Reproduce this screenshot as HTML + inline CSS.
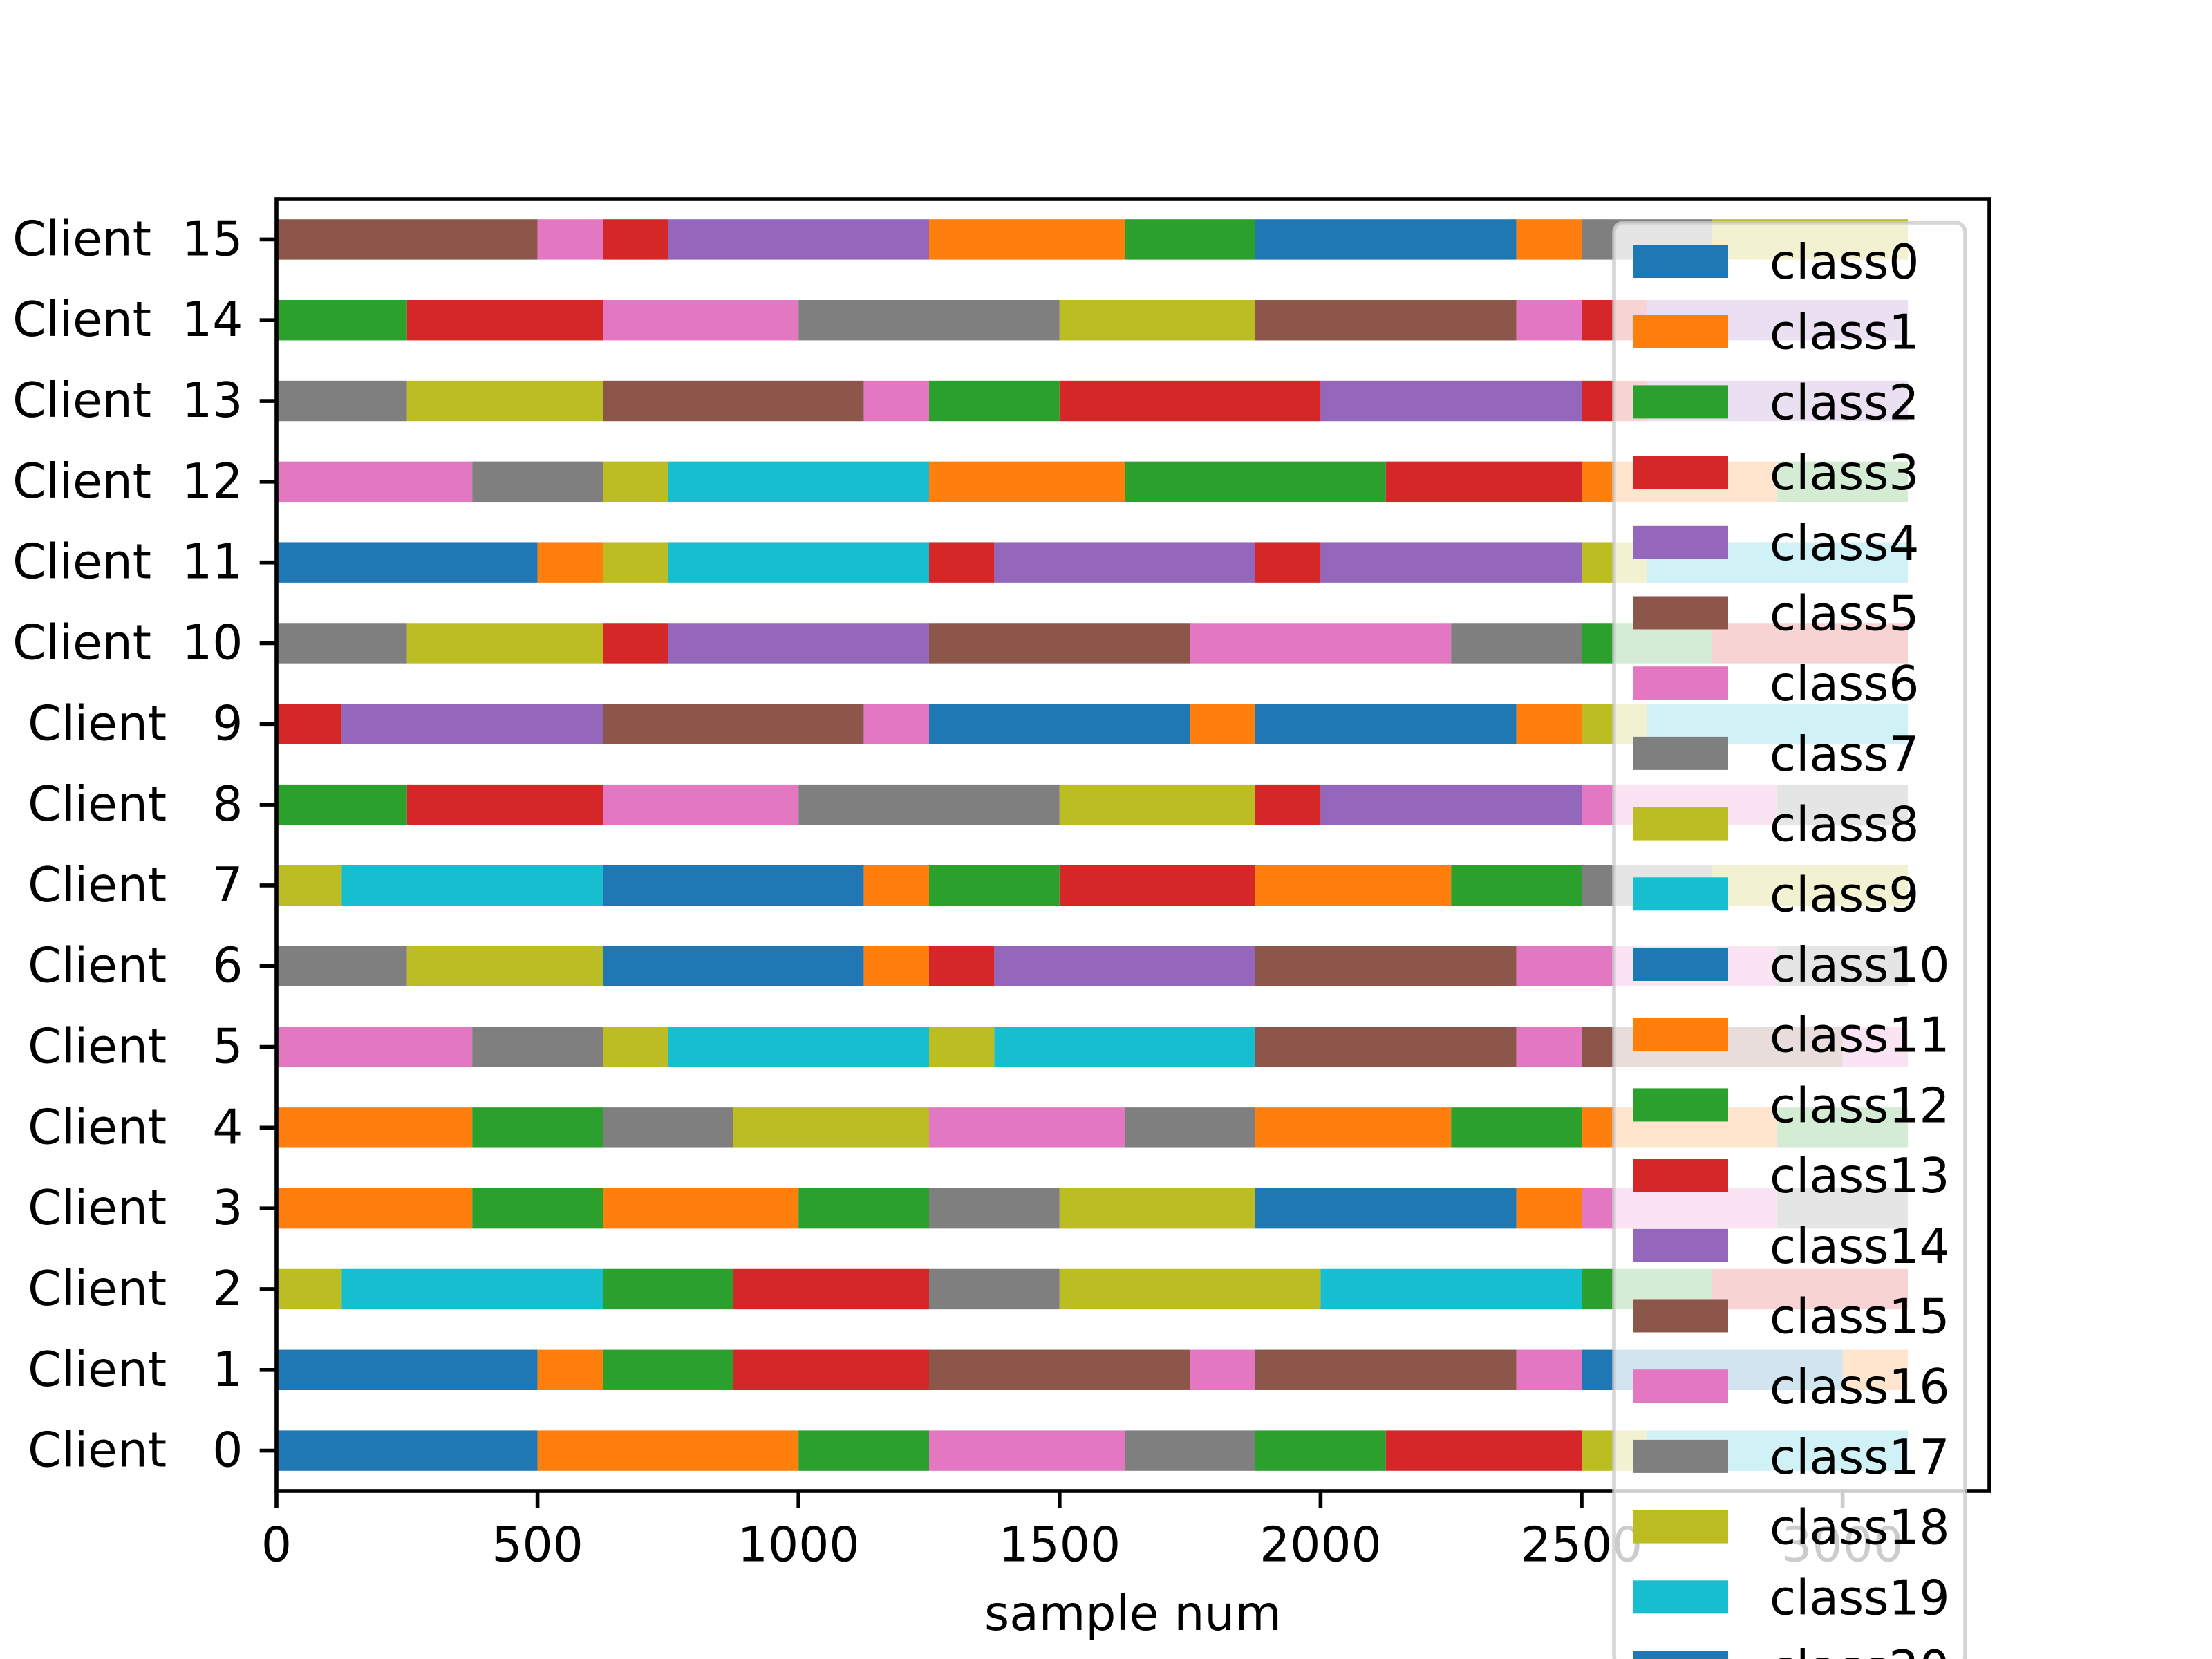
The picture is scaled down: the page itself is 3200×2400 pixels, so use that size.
<!DOCTYPE html>
<html><head><meta charset="utf-8">
<style>
html,body{margin:0;padding:0;background:#fff;width:3200px;height:2400px;overflow:hidden;}
svg{display:block;}
text{font-family:"DejaVu Sans","Liberation Sans",sans-serif;}
</style></head>
<body>
<svg id="chart" width="3200" height="2400" viewBox="0 0 3200 2400" xmlns="http://www.w3.org/2000/svg" overflow="hidden">
<defs><clipPath id="pageclip"><rect x="0" y="0" width="3200" height="2400"/></clipPath></defs>
</svg>
<script>
// ---- data ----
const clients = ["Client   0","Client   1","Client   2","Client   3","Client   4","Client   5","Client   6","Client   7","Client   8","Client   9","Client  10","Client  11","Client  12","Client  13","Client  14","Client  15"];
// segment sample counts per client (stacked left to right)
const c0v = [500,500,250,375,250,250,375,125,500];
const c1v = [500,125,250,375,500,125,500,125,500,125];
const c2v = [125,500,250,375,250,500,500,250,375];
const c3v = [375,250,375,250,250,375,500,125,375,250];
const c4v = [375,250,250,375,375,250,375,250,375,250];
const c5v = [375,250,125,500,125,500,500,125,500,125];
const c6v = [250,375,500,125,125,500,500,500,250];
const c7v = [125,500,500,125,250,375,375,250,250,375];
const c8v = [250,375,375,500,375,125,500,375,250];
const c9v = [125,500,500,125,500,125,500,125,125,500];
const c10v = [250,375,125,500,500,500,250,250,375];
const c11v = [500,125,125,500,125,500,125,500,125,500];
const c12v = [375,250,125,500,375,500,375,375,250];
const c13v = [250,375,500,125,250,500,500,125,500];
const c14v = [250,375,375,500,375,500,125,125,500];
const c15v = [500,125,125,500,375,250,500,125,250,375];
// class colour index (class id mod 10) for each segment
const c0k = [0,1,2,6,7,2,3,8,9];
const c1k = [0,1,2,3,5,6,5,6,0,1];
const c2k = [8,9,2,3,7,8,9,2,3];
const c3k = [1,2,1,2,7,8,0,1,6,7];
const c4k = [1,2,7,8,6,7,1,2,1,2];
const c5k = [6,7,8,9,8,9,5,6,5,6];
const c6k = [7,8,0,1,3,4,5,6,7];
const c7k = [8,9,0,1,2,3,1,2,7,8];
const c8k = [2,3,6,7,8,3,4,6,7];
const c9k = [3,4,5,6,0,1,0,1,8,9];
const c10k = [7,8,3,4,5,6,7,2,3];
const c11k = [0,1,8,9,3,4,3,4,8,9];
const c12k = [6,7,8,9,1,2,3,1,2];
const c13k = [7,8,5,6,2,3,4,3,4];
const c14k = [2,3,6,7,8,5,6,3,4];
const c15k = [5,6,3,4,1,2,0,1,7,8];
const xTicks = [0,500,1000,1500,2000,2500,3000];
const legendLabels = ["class0","class1","class2","class3","class4","class5","class6","class7","class8","class9","class10","class11","class12","class13","class14","class15","class16","class17","class18","class19","class20"];

const values = [c0v,c1v,c2v,c3v,c4v,c5v,c6v,c7v,c8v,c9v,c10v,c11v,c12v,c13v,c14v,c15v];
const kinds = [c0k,c1k,c2k,c3k,c4k,c5k,c6k,c7k,c8k,c9k,c10k,c11k,c12k,c13k,c14k,c15k];
const palette = ["#1f77b4","#ff7f0e","#2ca02c","#d62728","#9467bd","#8c564b","#e377c2","#7f7f7f","#bcbd22","#17becf"];

// ---- layout ----
const NS = "http://www.w3.org/2000/svg";
const svg = document.getElementById("chart");
const L = 400, R = 2878, T = 288, B = 2157;
let maxTotal = 0;
values.forEach(v => { const s = v.reduce((a,b)=>a+b,0); if (s > maxTotal) maxTotal = s; });
const xMax = maxTotal * 1.05;
const xs = v => L + (v / xMax) * (R - L);
const ys = i => B - ((i + 0.5) / clients.length) * (B - T);
const barH = 0.5 * (B - T) / clients.length;
const FS = 69.4;

function mk(tag, attrs, parent) {
  const e = document.createElementNS(NS, tag);
  for (const k in attrs) e.setAttribute(k, attrs[k]);
  (parent || svg).appendChild(e);
  return e;
}

// bars
const barsG = mk("g", {});


values.forEach((vals, ci) => {
  let acc = 0;
  vals.forEach((v, si) => {
    const r = mk("rect", {x: xs(acc), y: ys(ci) - barH/2, width: xs(acc + v) - xs(acc), height: barH, fill: palette[kinds[ci][si]]}, barsG);
    
    
    acc += v;
  });
});

// spines
const spines = mk("rect", {x: L, y: T, width: R - L, height: B - T, fill: "none", stroke: "#000", "stroke-width": 5.6});



// y ticks and labels
clients.forEach((c, i) => {
  const tk = mk("line", {x1: L - 24.3, x2: L, y1: ys(i), y2: ys(i), stroke: "#000", "stroke-width": 5.6});
  
  
  const t = mk("text", {x: L - 48.6, y: ys(i), "font-size": FS, "text-anchor": "end", "dominant-baseline": "central", fill: "#000"});
  t.setAttributeNS("http://www.w3.org/XML/1998/namespace", "xml:space", "preserve");
  t.style.whiteSpace = "pre";
  t.textContent = c;
  
  
});

// x ticks and labels
xTicks.forEach(v => {
  const tk = mk("line", {x1: xs(v), x2: xs(v), y1: B, y2: B + 24.3, stroke: "#000", "stroke-width": 5.6});
  
  
  const t = mk("text", {x: xs(v), y: B + 48.6 + FS * 0.76, "font-size": FS, "text-anchor": "middle", fill: "#000"});
  t.textContent = String(v);
  
  
});

const xl = mk("text", {x: (L + R) / 2, y: 2358, "font-size": FS, "text-anchor": "middle", fill: "#000"});
xl.textContent = "sample num";



// legend (clipped at page bottom)
const lg = mk("g", {"clip-path": "url(#pageclip)"});


const LX = 2335, LY = 322, LW = 508, step = 101.7;
const frame = mk("rect", {x: LX, y: LY, width: LW, height: 2410 - LY, rx: 14, ry: 14, fill: "#ffffff", "fill-opacity": 0.8, stroke: "#cccccc", "stroke-opacity": 0.8, "stroke-width": 5.6}, lg);


legendLabels.forEach((lab, i) => {
  const cy = 378 + i * step;
  const p = mk("rect", {x: 2363, y: cy - 24, width: 137, height: 48, fill: palette[i % 10]}, lg);
  
  
  const t = mk("text", {x: 2560, y: cy + 2, "font-size": FS, "dominant-baseline": "central", fill: "#000"}, lg);
  t.textContent = lab;
  
  
});
</script>
</body></html>
